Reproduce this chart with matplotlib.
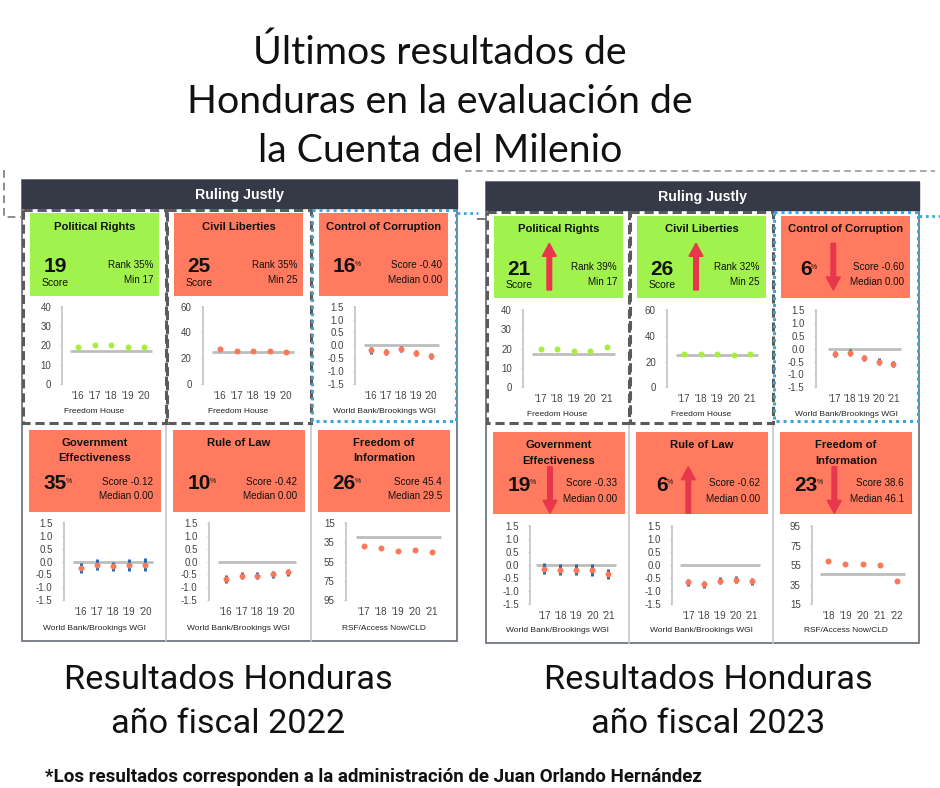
import matplotlib
matplotlib.use('Agg')
import matplotlib.pyplot as plt
from matplotlib.patches import Rectangle, FancyArrow
from matplotlib import font_manager as fm
import matplotlib.ticker as mticker


def pick(names):
    for n in names:
        try:
            fm.findfont(fm.FontProperties(family=n), fallback_to_default=False)
            return n
        except Exception:
            pass
    return 'DejaVu Sans'


TITLE_FONT = pick(['Lato', 'Open Sans', 'DejaVu Sans'])
COND_FONT = pick(['Liberation Sans Narrow', 'Roboto', 'Lato'])
UI_FONT = pick(['Liberation Sans', 'Arimo', 'DejaVu Sans'])
plt.rcParams['axes.unicode_minus'] = False

# ------------------------------------------------------------------ data
title_lines = ["Últimos resultados de", "Honduras en la evaluación de", "la Cuenta del Milenio"]
panel_header = "Ruling Justly"
caption_line1 = ["Resultados Honduras", "Resultados Honduras"]
caption_line2 = ["año fiscal 2022", "año fiscal 2023"]
footnote = "*Los resultados corresponden a la administración de Juan Orlando Hernández"

indicator_names = ["Political Rights", "Civil Liberties", "Control of Corruption",
                   "Government\nEffectiveness", "Rule of Law", "Freedom of\nInformation"]
sources = ["Freedom House", "Freedom House", "World Bank/Brookings WGI",
           "World Bank/Brookings WGI", "World Bank/Brookings WGI", "RSF/Access Now/CLD"]
is_percentile = [False, False, True, True, True, True]

years22 = ["'16", "'17", "'18", "'19", "'20"]
years22_foi = ["'17", "'18", "'19", "'20", "'21"]
years23 = ["'17", "'18", "'19", "'20", "'21"]
years23_foi = ["'18", "'19", "'20", "'21", "'22"]

# FY2022 series
pr22 = [19, 20, 20, 19, 19]
cl22 = [27, 26, 26, 26, 25]
coc22 = [-0.19, -0.25, -0.14, -0.31, -0.40]
coc22_err = [0.13, 0.12, 0.10, 0.12, 0.12]
ge22 = [-0.25, -0.12, -0.19, -0.13, -0.12]
ge22_err = [0.21, 0.21, 0.18, 0.23, 0.25]
rol22 = [-0.67, -0.56, -0.56, -0.50, -0.42]
rol22_err = [0.15, 0.14, 0.14, 0.13, 0.13]
foi22 = [38.6, 40.5, 44.0, 43.0, 45.4]

# FY2023 series
pr23 = [20, 20, 19, 19, 21]
cl23 = [26, 26, 26, 25, 26]
coc23 = [-0.22, -0.15, -0.35, -0.50, -0.60]
coc23_err = [0.12, 0.12, 0.12, 0.13, 0.13]
ge23 = [-0.13, -0.17, -0.17, -0.19, -0.33]
ge23_err = [0.21, 0.20, 0.21, 0.24, 0.20]
rol23 = [-0.66, -0.73, -0.60, -0.56, -0.62]
rol23_err = [0.13, 0.13, 0.13, 0.14, 0.13]
foi23 = [59.6, 56.2, 56.2, 55.5, 38.6]

big22 = ["19", "25", "16", "35", "10", "26"]
stat1_22 = ["Rank 35%", "Rank 35%", "Score -0.40", "Score -0.12", "Score -0.42", "Score 45.4"]
stat2_22 = ["Min 17", "Min 25", "Median 0.00", "Median 0.00", "Median 0.00", "Median 29.5"]
pass22 = [True, False, False, False, False, False]
thr22 = [17, 25, 0, 0, 0, 29.5]

big23 = ["21", "26", "6", "19", "6", "23"]
stat1_23 = ["Rank 39%", "Rank 32%", "Score -0.60", "Score -0.33", "Score -0.62", "Score 38.6"]
stat2_23 = ["Min 17", "Min 25", "Median 0.00", "Median 0.00", "Median 0.00", "Median 46.1"]
pass23 = [True, True, False, False, False, False]
thr23 = [17, 25, 0, 0, 0, 46.1]
arrows23 = ["up", "up", "down", "down", "up", "down"]

fh_pr_ticks = [0, 10, 20, 30, 40]
fh_cl_ticks = [0, 20, 40, 60]
wgi_ticks = [-1.5, -1.0, -0.5, 0.0, 0.5, 1.0, 1.5]
foi_ticks = [15, 35, 55, 75, 95]

panels = [
    dict(series=[pr22, cl22, coc22, ge22, rol22, foi22],
         errs=[None, None, coc22_err, ge22_err, rol22_err, None],
         years=[years22] * 5 + [years22_foi],
         big=big22, stat1=stat1_22, stat2=stat2_22, passed=pass22, thr=thr22,
         arrows=None, foi_inverted=True),
    dict(series=[pr23, cl23, coc23, ge23, rol23, foi23],
         errs=[None, None, coc23_err, ge23_err, rol23_err, None],
         years=[years23] * 5 + [years23_foi],
         big=big23, stat1=stat1_23, stat2=stat2_23, passed=pass23, thr=thr23,
         arrows=arrows23, foi_inverted=False),
]

# ------------------------------------------------------------------ layout
W, H = 940, 788
GEOM = [
    dict(x0=22, x1=457, y0=180, y1=641, hdr=28, edges=[22, 166, 311, 457], split=423, dash_top=209.5,
         top=dict(box=(212.7, 295.7), title=(226.7,), big=266.7, score=282.7, stat=(265, 280),
                  chart=(306.7, 384), src=411.7),
         bot=dict(box=(430, 511.7), title=(442.7, 457.7), big=483.3, stat=(481.7, 496),
                  chart=(523, 600), src=628),
         spine=[40, 36.5, 44, 41.5, 42.5, 34.5], p0=[56, 54, 60, 59, 60, 53],
         sp=[16.5, 16.5, 15, 16.1, 15.6, 17], arrow_off=None),
    dict(x0=486, x1=919, y0=182, y1=643, hdr=28, edges=[486, 629, 773, 919], split=423, dash_top=211.5,
         top=dict(box=(216, 298.3), title=(229.3,), big=269.3, score=285, stat=(267.3, 282.3),
                  chart=(310, 387.3), src=414, arrow=(290, 243.3)),
         bot=dict(box=(432.3, 514.3), title=(445, 460.7), big=485, stat=(483.3, 499),
                  chart=(526, 604.3), src=630.7, arrow=(513.3, 466.7)),
         spine=[36.7, 37.7, 42.5, 44, 43, 38.7], p0=[54.7, 55, 62, 58.3, 59.3, 55.3],
         sp=[16.5, 16.5, 14.6, 16, 15.85, 17.1], arrow_off=[63.3, 67, 60.3, 64, 59.3, 61.3]),
]

GREEN_BOX = '#a1f24c'
RED_BOX = '#ff7a5e'
GREEN_PT = '#a8ee3e'
RED_PT = '#fa7858'
HEADER = '#353a46'
BLUE_ERR = '#1f66b3'
GRAY_LINE = '#bdbdbd'

fig = plt.figure(figsize=(W / 100, H / 100), dpi=100)
fig.patch.set_facecolor('white')
ax0 = fig.add_axes([0, 0, 1, 1])
ax0.set_xlim(0, W)
ax0.set_ylim(H, 0)
ax0.axis('off')
renderer = fig.canvas.get_renderer()


def fit(t, target):
    bb = t.get_window_extent(renderer)
    t.set_fontsize(t.get_fontsize() * target / bb.width)


def mini_chart(cell_x, spine_off, p0_off, sp, y_top, y_bot, values, labels, ylim, yticks, fmt,
               color, thr, err=None, invert=False):
    left = cell_x + spine_off
    right = cell_x + 140
    ax = fig.add_axes([left / W, 1 - y_bot / H, (right - left) / W, (y_bot - y_top) / H])
    ax.patch.set_alpha(0)
    ax.set_xlim((left - (cell_x + p0_off)) / sp, (right - (cell_x + p0_off)) / sp)
    if invert:
        ax.set_ylim(ylim[1], ylim[0])
    else:
        ax.set_ylim(ylim[0], ylim[1])
    xs = list(range(len(values)))
    ax.plot([-0.5, len(values) - 0.5], [thr, thr], color=GRAY_LINE, lw=2, zorder=1,
            solid_capstyle='butt')
    if err is not None:
        ax.errorbar(xs, values, yerr=err, fmt='none', ecolor=BLUE_ERR, elinewidth=2.1,
                    capsize=0, zorder=2)
    ax.plot(xs, values, 'o', ms=4.3, color=color, mec='none', zorder=3, clip_on=False)
    ax.set_yticks(yticks)
    ax.yaxis.set_major_formatter(mticker.FormatStrFormatter(fmt))
    ax.set_xticks(xs)
    ax.set_xticklabels(labels)
    ax.tick_params(axis='y', length=1.8, width=1, color='#c8c8c8', pad=6, labelsize=7,
                   labelcolor='#444')
    ax.tick_params(axis='x', length=0, pad=5, labelsize=7, labelcolor='#444')
    for lab in ax.get_xticklabels() + ax.get_yticklabels():
        lab.set_family(UI_FONT)
    for s in ['top', 'right', 'bottom']:
        ax.spines[s].set_visible(False)
    ax.spines['left'].set_color('#c8c8c8')
    ax.spines['left'].set_linewidth(1.3)
    return ax


# ------------------------------------------------------------------ title
title_objs = []
for ln, yb in zip(title_lines, [64, 113, 162]):
    title_objs.append(ax0.text(440, yb, ln, ha='center', va='baseline', fontsize=27,
                               family=TITLE_FONT, color='#111'))
bbw = title_objs[1].get_window_extent(renderer).width
for t in title_objs:
    t.set_fontsize(t.get_fontsize() * 508 / bbw)

# ------------------------------------------------------------------ decorative connectors
ax0.plot([4, 4, 22], [170, 217, 217], color='#8c8c8c', lw=1.4, ls=(0, (4, 2.5)))
ax0.plot([465, 935], [170.7, 170.7], color='#9a9a9a', lw=1.2, ls=(0, (4, 2.5)))
ax0.plot([457, 478], [213, 213], color='#39a7dc', lw=2, ls=(0, (1, 1.3)))
ax0.plot([919, 940], [215.7, 215.7], color='#39a7dc', lw=2, ls=(0, (1, 1.3)))
ax0.plot([478, 486], [219, 219], color='#777', lw=1.4)

# ------------------------------------------------------------------ panels
for g, p in zip(GEOM, panels):
    ax0.add_patch(Rectangle((g['x0'], g['y0']), g['x1'] - g['x0'], g['y1'] - g['y0'],
                            fill=False, ec='#6f7782', lw=1.3, zorder=1))
    ax0.add_patch(Rectangle((g['x0'], g['y0']), g['x1'] - g['x0'], g['hdr'],
                            fc=HEADER, ec=HEADER, lw=1, zorder=2))
    ax0.text((g['x0'] + g['x1']) / 2, g['y0'] + g['hdr'] / 2 + 1, panel_header, ha='center',
             va='center', color='white', fontsize=10.2, fontweight='bold', family=UI_FONT, zorder=3)
    edges = g['edges']
    for xe in edges[1:3]:
        ax0.plot([xe, xe], [g['split'], g['y1']], color='#c3c8cf', lw=1.2, zorder=1)

    for i in range(6):
        row, col = divmod(i, 3)
        cx = edges[col]
        R = g['top'] if row == 0 else g['bot']
        bo = (8, 137) if row == 0 else (7, 139)
        passed = p['passed'][i]
        ax0.add_patch(Rectangle((cx + bo[0], R['box'][0]), bo[1] - bo[0], R['box'][1] - R['box'][0],
                                fc=GREEN_BOX if passed else RED_BOX, ec='none', zorder=2))
        tx = cx + (bo[0] + bo[1]) / 2
        name_lines = indicator_names[i].split('\n')
        for k, nl in enumerate(name_lines):
            ax0.text(tx, R['title'][k], nl, ha='center', va='center', fontsize=8.1,
                     fontweight='bold', family=UI_FONT, color='#111', zorder=4)
        bt = ax0.text(cx + 33, R['big'], p['big'][i], ha='center', va='center', fontsize=15,
                      fontweight='bold', family=UI_FONT, color='#111', zorder=4)
        if is_percentile[i]:
            ax0.annotate('%', xy=(1, 0.8), xycoords=bt, xytext=(-0.6, 0),
                         textcoords='offset points', ha='left', va='top', fontsize=5,
                         family=UI_FONT, color='#111', zorder=4)
        else:
            ax0.text(cx + 33, R['score'], 'Score', ha='center', va='center', fontsize=7.5,
                     family=UI_FONT, color='#111', zorder=4)
        ax0.text(cx + 131, R['stat'][0], p['stat1'][i], ha='right', va='center', fontsize=7.1,
                 family=UI_FONT, color='#111', zorder=4)
        ax0.text(cx + 131, R['stat'][1], p['stat2'][i], ha='right', va='center', fontsize=7.1,
                 family=UI_FONT, color='#111', zorder=4)
        if p['arrows'] is not None:
            ax_x = cx + g['arrow_off'][i]
            yb, yt = R['arrow']
            if p['arrows'][i] == 'up':
                ys, ye = yb, yt
            else:
                ys, ye = yt, yb
            ax0.add_patch(FancyArrow(ax_x, ys, 0, ye - ys, width=4.6, head_width=14,
                                     head_length=13, length_includes_head=True,
                                     color='#e8364a', zorder=5))
        ax0.text((edges[col] + edges[col + 1]) / 2, R['src'], sources[i], ha='center',
                 va='center', fontsize=6.0, family=UI_FONT, color='#222', zorder=4)
        if i == 0:
            ylim, ticks, fmt = (0, 40), fh_pr_ticks, '%d'
        elif i == 1:
            ylim, ticks, fmt = (0, 60), fh_cl_ticks, '%d'
        elif i == 5:
            ylim, ticks, fmt = (15, 95), foi_ticks, '%d'
        else:
            ylim, ticks, fmt = (-1.5, 1.5), wgi_ticks, '%.1f'
        mini_chart(cx, g['spine'][i], g['p0'][i], g['sp'][i], R['chart'][0], R['chart'][1],
                   p['series'][i], p['years'][i], ylim, ticks, fmt,
                   GREEN_PT if passed else RED_PT, p['thr'][i], err=p['errs'][i],
                   invert=(i == 5 and p['foi_inverted']))

    dt = g['dash_top']
    for col in range(2):
        xa, xb = edges[col] + 1.3, edges[col + 1]
        ax0.add_patch(Rectangle((xa, dt), xb - xa, g['split'] - dt, fill=False, ec='#5b5b5b',
                                lw=2.2, ls=(0, (3, 1.6)), zorder=6))
    xa, xb = edges[2] + 1.3, edges[3] - 1.5
    ax0.add_patch(Rectangle((xa, dt), xb - xa, g['split'] - 2 - dt, fill=False, ec='#39a7dc',
                            lw=2.2, ls=(0, (1, 1.3)), zorder=7))

# ------------------------------------------------------------------ captions
for cxm, l1, l2 in zip([228, 708], caption_line1, caption_line2):
    t1 = ax0.text(cxm, 689, l1, ha='center', va='baseline', fontsize=27, family=COND_FONT,
                  color='#111')
    fit(t1, 328)
    ax0.text(cxm, 733, l2, ha='center', va='baseline', fontsize=t1.get_fontsize(),
             family=COND_FONT, color='#111')

fn = ax0.text(45, 782, footnote, ha='left', va='baseline', fontsize=11, fontweight='bold',
              family=COND_FONT, color='#111')
fit(fn, 660)

fig.savefig('out.png', dpi=100, facecolor='white')
